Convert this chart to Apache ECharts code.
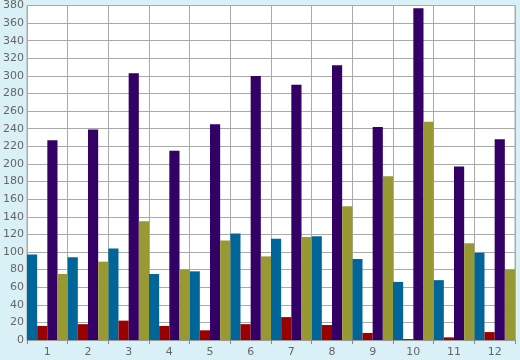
<!DOCTYPE html>
<html><head><meta charset="utf-8">
<script src="https://cdn.jsdelivr.net/npm/echarts@6/dist/echarts.min.js"></script>
<style>html,body{margin:0;padding:0;background:#d9f0f7;}#c{width:520px;height:360px;}</style>
</head><body><div id="c"></div>
<script>
var categories = ['1','2','3','4','5','6','7','8','9','10','11','12'];
var blueValues   = [97, 94, 104, 75, 78, 121, 115, 118, 92, 66, 68, 99];
var redValues    = [16, 18, 22, 16, 11, 18, 26, 17, 8, 1, 3, 9];
var purpleValues = [227, 239, 303, 215, 245, 300, 290, 312, 242, 377, 197, 228];
var oliveValues  = [75, 89, 135, 80, 113, 95, 117, 152, 186, 248, 110, 80];
var yMin = 0, yMax = 380, yStep = 20;

var chart = echarts.init(document.getElementById('c'), null, {renderer:'canvas'});
function s(name, data, color){
  return {name:name, type:'bar', data:data, barGap:'0%', barCategoryGap:'0%',
    itemStyle:{color:color}, animation:false};
}
chart.setOption({
  backgroundColor:'#d9f0f7',
  animation:false,
  grid:{left:26, right:5, top:5, bottom:20, containLabel:false, show:true,
        backgroundColor:'#ffffff', borderColor:'#aaaaaa', borderWidth:1},
  xAxis:{type:'category', data:categories,
    axisLine:{lineStyle:{color:'#999999'}},
    axisTick:{show:true, length:4, lineStyle:{color:'#888888'}},
    axisLabel:{color:'#666666', fontFamily:'DejaVu Sans', fontSize:11, margin:7},
    splitLine:{show:true, lineStyle:{color:'#aaaaaa', width:1}}},
  yAxis:{type:'value', min:yMin, max:yMax, interval:yStep,
    axisLine:{show:true, lineStyle:{color:'#aaaaaa'}},
    axisTick:{show:false},
    axisLabel:{color:'#666666', fontFamily:'DejaVu Sans', fontSize:11, margin:3},
    splitLine:{show:true, lineStyle:{color:'#aaaaaa', width:1}}},
  series:[
    s('A', blueValues, '#006699'),
    s('B', redValues, '#990000'),
    s('C', purpleValues, '#330066'),
    s('D', oliveValues, '#999933')
  ]
});
</script></body></html>
